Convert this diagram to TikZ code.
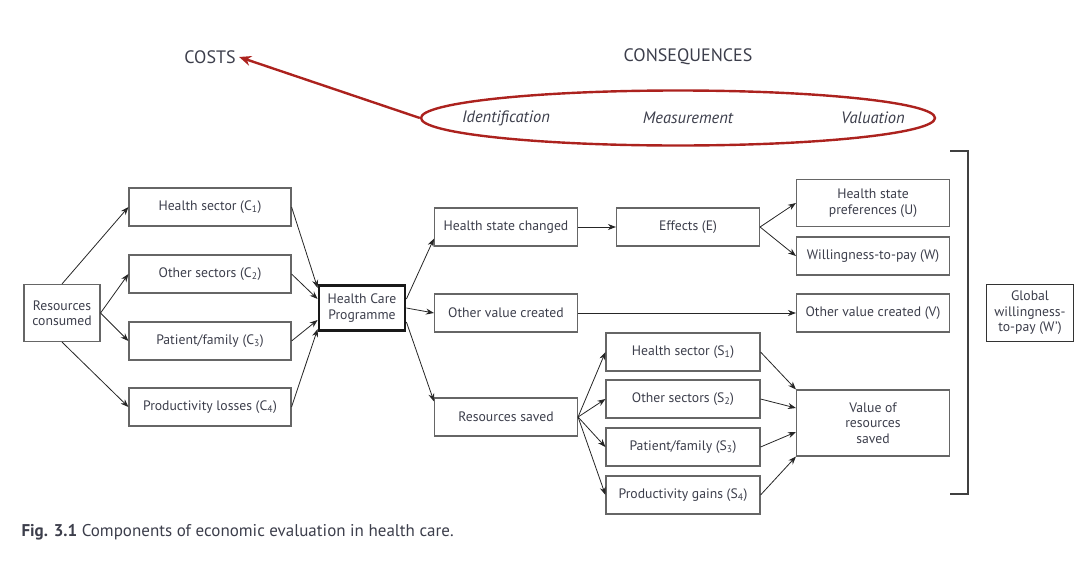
\documentclass[tikz,border=0pt]{standalone}
\usepackage{fontspec}
\setmainfont{PT Sans}
\usetikzlibrary{shapes.geometric,arrows.meta,positioning}

\definecolor{evalred}{RGB}{172,34,30}
\definecolor{inkgray}{RGB}{60,62,75}

\begin{document}
\begin{tikzpicture}[
    x=1pt, y=-1pt,
    font=\fontsize{13.7}{15.5}\selectfont,
    box/.style={draw=black!60, line width=1.1pt, align=center, text=inkgray, inner sep=2pt, minimum width=143pt, minimum height=38pt},
    sidebox/.style={box, minimum width=153pt},
    progbox/.style={draw=black!90, line width=2.8pt, align=center, text=inkgray, inner sep=2pt, minimum width=86pt, minimum height=45pt},
    headtext/.style={text=inkgray, font=\fontsize{18}{20}\selectfont},
    steptext/.style={text=inkgray, font=\fontsize{16.5}{18}\selectfont\itshape},
    wire/.style={-{Stealth[length=8pt, width=6pt]}, line width=0.8pt, draw=black!85},
    redwire/.style={-{Stealth[length=12pt, width=10pt]}, line width=2.4pt, draw=evalred}
]
    \useasboundingbox (0,0) rectangle (1092,568);

    % Titres
    \node[headtext] (costs) at (210,57) {COSTS};
    \node[headtext] (conseq) at (688,57) {CONSEQUENCES};

    \node[ellipse, draw=evalred, line width=2.4pt, minimum width=514pt, minimum height=55pt] (steps) at (678,118) {};
    \node[steptext] (ident) at (506,118) {Identification};
    \node[steptext] (measure) at (688,118) {Measurement};
    \node[steptext] (value) at (873,118) {Valuation};

    \draw[redwire] (steps.west) -- (costs.east);

    % Couts
    \node[box, minimum width=76pt, minimum height=57pt] (rc) at (62,313) {Resources\\consumed};
    \node[box, minimum width=162pt] (c1) at (210,207) {Health sector (C\textsubscript{1})};
    \node[box, minimum width=162pt] (c2) at (210,274) {Other sectors (C\textsubscript{2})};
    \node[box, minimum width=162pt] (c3) at (210,341) {Patient/family (C\textsubscript{3})};
    \node[box, minimum width=162pt] (c4) at (210,407) {Productivity losses (C\textsubscript{4})};

    \node[progbox] (hcp) at (362,308) {Health Care\\Programme};

    % Consequences
    \node[box] (hsc) at (506,227) {Health state changed};
    \node[box] (ovc) at (506,313) {Other value created};
    \node[box] (rs) at (506,417) {Resources saved};

    \node[box] (eff) at (688,227) {Effects (E)};
    \node[box, minimum width=154pt] (s1) at (683,352) {Health sector (S\textsubscript{1})};
    \node[box, minimum width=154pt] (s2) at (683,399) {Other sectors (S\textsubscript{2})};
    \node[box, minimum width=154pt] (s3) at (683,447) {Patient/family (S\textsubscript{3})};
    \node[box, minimum width=154pt] (s4) at (683,495) {Productivity gains (S\textsubscript{4})};

    \node[sidebox, minimum height=47pt] (u) at (873,203) {Health state\\preferences (U)};
    \node[sidebox] (w) at (873,256) {Willingness-to-pay (W)};
    \node[sidebox] (v) at (873,313) {Other value created (V)};
    \node[sidebox, minimum height=66pt] (vrs) at (873,423) {Value of\\resources\\saved};

    \node[box, draw=black!80, minimum width=87pt, minimum height=57pt] (gw) at (1030,313) {Global\\willingness-\\to-pay (W')};

    \draw[line width=1.1pt, draw=black!75] (950,151) -- (968,151) -- (968,494) -- (950,494);

    % Liens
    \draw[wire] (rc.north) -- (c1.west);
    \draw[wire] (rc.east) -- (c2.west);
    \draw[wire] (rc.east) -- (c3.west);
    \draw[wire] (rc.south) -- (c4.west);

    \draw[wire] (c1.east) -- ([yshift=20pt]hcp.west);
    \draw[wire] (c2.east) -- ([yshift=9pt]hcp.west);
    \draw[wire] (c3.east) -- ([yshift=-12pt]hcp.west);
    \draw[wire] (c4.east) -- ([yshift=-21pt]hcp.west);

    \draw[wire] ([yshift=9pt]hcp.east) -- ([yshift=8pt]hsc.south west);
    \draw[wire] (hcp.east) -- (ovc.west);
    \draw[wire] ([yshift=-14pt]hcp.east) -- ([yshift=-4pt]rs.north west);

    \draw[wire] (hsc.east) -- (eff.west);
    \draw[wire] (eff.east) -- (u.west);
    \draw[wire] (eff.east) -- (w.west);
    \draw[wire] (ovc.east) -- (v.west);

    \draw[wire] (rs.east) -- (s1.west);
    \draw[wire] (rs.east) -- (s2.west);
    \draw[wire] (rs.east) -- (s3.west);
    \draw[wire] (rs.east) -- (s4.west);

    \draw[wire] (s1.east) -- (vrs.north west);
    \draw[wire] (s2.east) -- ([yshift=15pt]vrs.west);
    \draw[wire] (s3.east) -- ([yshift=-9pt]vrs.west);
    \draw[wire] (s4.east) -- (vrs.south west);

    % Legende
    \node[anchor=west, text=inkgray, font=\fontsize{17}{20}\selectfont] (caption) at (18,532) {\textbf{Fig. 3.1} Components of economic evaluation in health care.};
\end{tikzpicture}
\end{document}
